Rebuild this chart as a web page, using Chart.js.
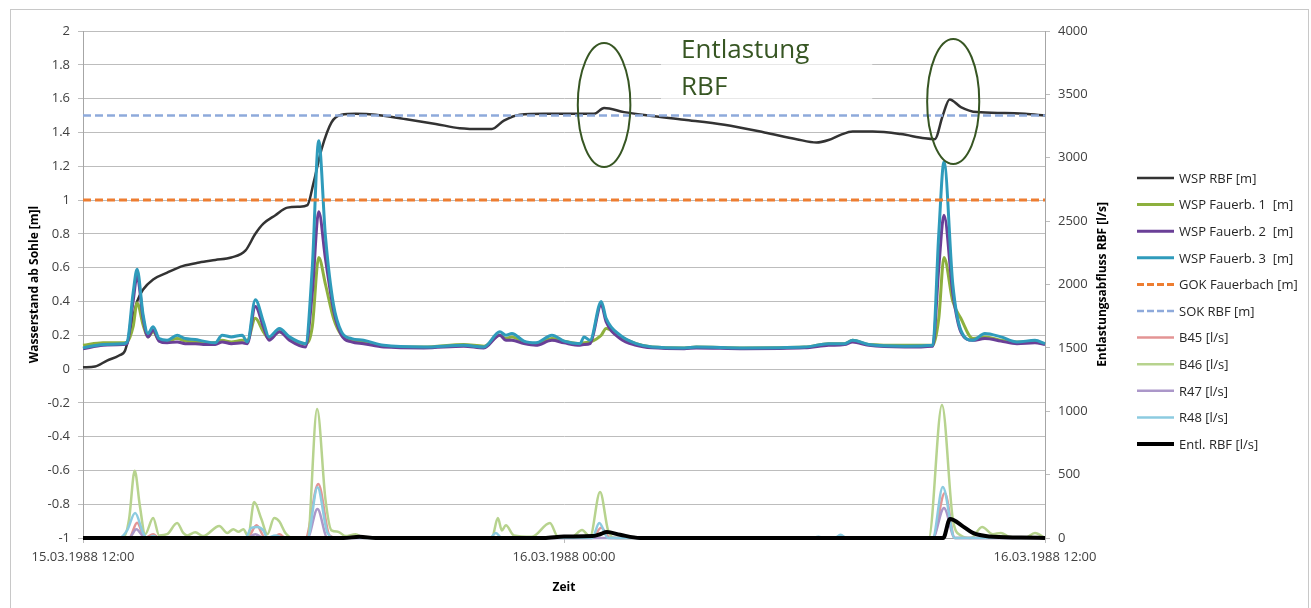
<!DOCTYPE html>
<html lang="de">
<head>
	<title>Wasserstand und Entlastungsabfluss RBF</title>
	<meta charset="utf-8">
	<script src="https://cdn.jsdelivr.net/npm/chart.js@4.4.1/dist/chart.umd.min.js"></script>
	<style type="text/css">
		html, body { margin: 0; padding: 0; background: #fff; }
		#wrap { width: 1311px; height: 608px; }
	</style>
</head>
<body>
<div id="wrap"><canvas id="wsp-canvas"></canvas></div>
<script type="text/javascript">
	// Zeit in Stunden ab 15.03.1988 12:00
	var xTickLabels = ["15.03.1988 12:00", "16.03.1988 00:00", "16.03.1988 12:00"];

	// WSP RBF [m]
	var tWspRbf = [0, 0.3, 0.6, 0.9, 1.05, 1.2, 1.35, 1.5, 1.75, 2.1, 2.5, 2.9, 3.3, 3.7, 4.05, 4.3, 4.5, 4.8, 5.1, 5.4, 5.6, 5.75, 5.95, 6.2, 6.45, 6.8, 7.3, 8.0, 8.8, 9.4, 10.0, 10.2, 10.5, 10.9, 11.5, 12.2, 12.75, 13.0, 13.5, 14.1, 15.0, 16.0, 17.0, 17.8, 18.3, 18.6, 18.9, 19.2, 19.7, 20.4, 21.0, 21.25, 21.45, 21.62, 21.9, 22.3, 23.0, 23.5, 24];
	var wspRbf = [0.01, 0.015, 0.05, 0.08, 0.11, 0.25, 0.40, 0.47, 0.53, 0.57, 0.61, 0.63, 0.645, 0.66, 0.70, 0.80, 0.86, 0.91, 0.955, 0.96, 0.97, 1.10, 1.30, 1.46, 1.505, 1.51, 1.505, 1.48, 1.45, 1.425, 1.42, 1.42, 1.47, 1.505, 1.51, 1.51, 1.51, 1.545, 1.52, 1.50, 1.475, 1.445, 1.40, 1.36, 1.34, 1.355, 1.385, 1.405, 1.405, 1.39, 1.365, 1.36, 1.50, 1.595, 1.55, 1.52, 1.515, 1.51, 1.50];

	// WSP Fauerbach 1-3 [m]
	var tFauerb = [0, 0.5, 1.0, 1.1, 1.25, 1.35, 1.5, 1.62, 1.75, 1.9, 2.1, 2.35, 2.55, 2.8, 3.0, 3.3, 3.47, 3.7, 3.97, 4.1, 4.3, 4.5, 4.64, 4.9, 5.15, 5.55, 5.72, 5.88, 6.05, 6.25, 6.45, 6.7, 7.0, 7.5, 8.5, 9.5, 10.0, 10.4, 10.55, 10.7, 11.0, 11.3, 11.7, 12.0, 12.4, 12.5, 12.65, 12.93, 13.05, 13.4, 13.8, 14.2, 15.0, 15.3, 16.5, 18.0, 18.6, 19.0, 19.2, 19.6, 20.5, 21.2, 21.35, 21.48, 21.7, 21.9, 22.2, 22.5, 22.9, 23.3, 23.75, 24];
	var wspFauerb1 = [0.14, 0.155, 0.155, 0.16, 0.25, 0.39, 0.26, 0.19, 0.22, 0.17, 0.165, 0.18, 0.165, 0.16, 0.155, 0.155, 0.17, 0.16, 0.17, 0.17, 0.30, 0.22, 0.18, 0.22, 0.18, 0.15, 0.25, 0.66, 0.50, 0.30, 0.20, 0.17, 0.16, 0.135, 0.13, 0.145, 0.135, 0.20, 0.18, 0.19, 0.16, 0.15, 0.18, 0.165, 0.15, 0.155, 0.16, 0.20, 0.24, 0.19, 0.15, 0.13, 0.125, 0.13, 0.125, 0.13, 0.15, 0.15, 0.17, 0.145, 0.14, 0.14, 0.30, 0.66, 0.40, 0.30, 0.18, 0.19, 0.17, 0.16, 0.16, 0.15];
	var wspFauerb2 = [0.12, 0.14, 0.145, 0.15, 0.40, 0.55, 0.30, 0.19, 0.23, 0.165, 0.155, 0.16, 0.15, 0.15, 0.145, 0.145, 0.16, 0.15, 0.155, 0.15, 0.37, 0.25, 0.17, 0.22, 0.17, 0.13, 0.45, 0.93, 0.65, 0.35, 0.20, 0.16, 0.15, 0.13, 0.125, 0.135, 0.125, 0.20, 0.17, 0.17, 0.15, 0.14, 0.17, 0.155, 0.14, 0.145, 0.15, 0.38, 0.28, 0.18, 0.14, 0.125, 0.12, 0.125, 0.12, 0.125, 0.14, 0.145, 0.16, 0.14, 0.13, 0.135, 0.60, 0.91, 0.45, 0.22, 0.17, 0.18, 0.165, 0.15, 0.155, 0.145];
	var wspFauerb3 = [0.125, 0.145, 0.15, 0.16, 0.45, 0.59, 0.32, 0.21, 0.25, 0.18, 0.17, 0.20, 0.18, 0.175, 0.165, 0.155, 0.20, 0.19, 0.20, 0.16, 0.41, 0.28, 0.19, 0.24, 0.19, 0.15, 0.60, 1.35, 0.78, 0.38, 0.22, 0.18, 0.17, 0.14, 0.13, 0.14, 0.13, 0.22, 0.20, 0.21, 0.165, 0.155, 0.20, 0.165, 0.15, 0.19, 0.17, 0.40, 0.30, 0.20, 0.15, 0.13, 0.125, 0.13, 0.125, 0.13, 0.15, 0.15, 0.17, 0.145, 0.135, 0.14, 0.80, 1.225, 0.50, 0.23, 0.17, 0.21, 0.19, 0.16, 0.17, 0.15];

	// GOK / SOK [m]
	var tLimit = [0, 24];
	var gokFauerbach = [1.0, 1.0];
	var sokRbf = [1.5, 1.5];

	// Zufluesse [l/s]
	var tB45 = [0, 1.15, 1.35, 1.55, 1.75, 1.9, 4.1, 4.33, 4.55, 4.75, 4.9, 5.05, 5.55, 5.87, 6.15, 6.35, 12.7, 12.93, 13.15, 21.2, 21.5, 21.75, 24];
	var b45 = [0, 0, 120, 0, 30, 0, 0, 100, 0, 0, 30, 0, 0, 426, 20, 0, 0, 80, 0, 0, 355, 0, 0];

	var tB46 = [0, 1.0, 1.15, 1.29, 1.42, 1.55, 1.75, 1.9, 2.1, 2.35, 2.5, 2.6, 2.8, 3.0, 3.4, 3.6, 3.75, 3.88, 4.0, 4.12, 4.27, 4.45, 4.6, 4.77, 4.9, 5.05, 5.25, 5.6, 5.84, 6.05, 6.2, 6.36, 6.55, 6.8, 7.0, 10.2, 10.35, 10.45, 10.55, 10.75, 11.2, 11.65, 11.85, 12.2, 12.45, 12.65, 12.9, 13.1, 13.3, 21.1, 21.43, 21.7, 21.9, 22.15, 22.43, 22.7, 22.9, 23.1, 23.5, 23.75, 24];
	var b46 = [0, 0, 150, 530, 250, 30, 158, 20, 30, 118, 40, 20, 45, 15, 95, 40, 70, 50, 70, 15, 284, 150, 30, 158, 130, 40, 0, 0, 1018, 300, 60, 50, 15, 30, 0, 0, 158, 60, 100, 20, 10, 118, 10, 10, 63, 10, 363, 60, 0, 0, 1050, 150, 20, 0, 87, 30, 40, 10, 0, 40, 0];

	var tR47 = [0, 1.15, 1.33, 1.55, 4.1, 4.3, 4.5, 5.6, 5.85, 6.1, 21.2, 21.48, 21.75, 24];
	var r47 = [0, 0, 70, 0, 0, 30, 0, 0, 229, 0, 0, 237, 0, 0];

	var tR48 = [0, 0.9, 1.1, 1.3, 1.5, 1.6, 1.75, 1.9, 4.05, 4.2, 4.35, 4.5, 4.6, 4.8, 5.0, 5.6, 5.85, 6.1, 6.3, 10.15, 10.3, 10.45, 12.7, 12.88, 13.1, 18.15, 18.35, 18.5, 18.75, 18.9, 19.05, 21.2, 21.45, 21.75, 24];
	var r48 = [0, 0, 60, 197, 40, 0, 15, 0, 0, 80, 87, 60, 0, 20, 0, 0, 400, 40, 0, 0, 40, 0, 0, 118, 0, 0, 10, 0, 0, 25, 0, 0, 403, 0, 0];

	// Entlastung RBF [l/s]
	var tEntl = [0, 6.5, 6.9, 7.3, 11.5, 12.0, 12.7, 12.9, 13.07, 13.4, 13.9, 21.46, 21.63, 21.96, 22.2, 22.6, 23.4, 24];
	var entlRbf = [0, 0, 10, 0, 0, 12, 15, 30, 47, 25, 0, 0, 150, 90, 40, 12, 4, 0];

	// Markierungen (Zeit [h], Wasserstand [m])
	var noteText = ["Entlastung", "RBF"];
	var noteBox = [14.42, 1.98, 19.69, 1.59];
	var noteTextPos = [14.92, 1.84, 1.621];
	var ellipses = [[13.0, 1.562, 0.656, 0.367], [21.71, 1.583, 0.65, 0.37]];

	function pts(ts, vs) {
		return ts.map(function(t, i) { return {x: t, y: vs[i]}; });
	}

	function series(label, ts, vs, color, width, axis, dash) {
		return {
			label: label,
			data: pts(ts, vs),
			borderColor: color,
			backgroundColor: color,
			borderWidth: width,
			borderDash: dash || [],
			yAxisID: axis,
			pointRadius: 0,
			fill: false,
			cubicInterpolationMode: 'monotone',
			clip: 5
		};
	}

	var datasets = [
		series("WSP RBF [m]", tWspRbf, wspRbf, "#333333", 2.5, "y"),
		series("WSP Fauerb. 1  [m]", tFauerb, wspFauerb1, "#8db03e", 3, "y"),
		series("WSP Fauerb. 2  [m]", tFauerb, wspFauerb2, "#6a3f97", 3, "y"),
		series("WSP Fauerb. 3  [m]", tFauerb, wspFauerb3, "#2f9bbb", 3, "y"),
		series("GOK Fauerbach [m]", tLimit, gokFauerbach, "#ed7d31", 3, "y", [8, 4]),
		series("SOK RBF [m]", tLimit, sokRbf, "#8eaadb", 2.5, "y", [8, 4]),
		series("B45 [l/s]", tB45, b45, "#e39494", 2.5, "y1"),
		series("B46 [l/s]", tB46, b46, "#b7d38e", 2.5, "y1"),
		series("R47 [l/s]", tR47, r47, "#ab97c9", 2.5, "y1"),
		series("R48 [l/s]", tR48, r48, "#8ccbe0", 2.5, "y1"),
		series("Entl. RBF [l/s]", tEntl, entlRbf, "#000000", 4, "y1")
	];
	// wie in Excel: spaetere Reihen liegen oben
	datasets.forEach(function(ds, i) { ds.order = datasets.length - i; });

	var frame = {
		id: 'frame',
		beforeDraw: function(chart) {
			var ctx = chart.ctx;
			ctx.save();
			ctx.fillStyle = "#fff";
			ctx.fillRect(0, 0, chart.width, chart.height);
			ctx.strokeStyle = "#c8c8c8";
			ctx.lineWidth = 1;
			ctx.strokeRect(10.5, 9.5, 1298, 610);
			ctx.restore();
		}
	};

	var notes = {
		id: 'notes',
		beforeDatasetsDraw: function(chart) {
			var ctx = chart.ctx, sx = chart.scales.x, sy = chart.scales.y;
			var x0 = sx.getPixelForValue(noteBox[0]), y0 = sy.getPixelForValue(noteBox[1]);
			var x1 = sx.getPixelForValue(noteBox[2]), y1 = sy.getPixelForValue(noteBox[3]);
			ctx.save();
			ctx.fillStyle = "rgba(255,255,255,0.65)";
			ctx.fillRect(x0, y0, x1 - x0, y1 - y0);
			ctx.restore();
		},
		afterDatasetsDraw: function(chart) {
			var ctx = chart.ctx, sx = chart.scales.x, sy = chart.scales.y;
			ctx.save();
			ctx.strokeStyle = "#375623";
			ctx.lineWidth = 2;
			ellipses.forEach(function(e) {
				var cx = sx.getPixelForValue(e[0]), cy = sy.getPixelForValue(e[1]);
				var rx = sx.getPixelForValue(e[0] + e[2]) - cx;
				var ry = cy - sy.getPixelForValue(e[1] + e[3]);
				ctx.beginPath();
				ctx.ellipse(cx, cy, rx, ry, 0, 0, Math.PI * 2);
				ctx.stroke();
			});
			ctx.fillStyle = "#375623";
			ctx.font = "26px 'Open Sans'";
			ctx.textBaseline = "alphabetic";
			ctx.fillText(noteText[0], sx.getPixelForValue(noteTextPos[0]), sy.getPixelForValue(noteTextPos[1]));
			ctx.fillText(noteText[1], sx.getPixelForValue(noteTextPos[0]), sy.getPixelForValue(noteTextPos[2]));
			ctx.restore();
		}
	};

	var sideParts = {
		id: 'sideParts',
		afterDraw: function(chart) {
			var ctx = chart.ctx, a = chart.chartArea, r = chart.scales.y1;
			ctx.save();
			// rechte Achsenbeschriftung, von unten nach oben
			ctx.translate(r.right - 11, (a.top + a.bottom) / 2);
			ctx.rotate(-Math.PI / 2);
			ctx.font = "bold 12px 'Open Sans'";
			ctx.fillStyle = "#000";
			ctx.textAlign = "center";
			ctx.textBaseline = "middle";
			ctx.fillText("Entlastungsabfluss RBF [l/s]", 0, 0);
			ctx.restore();

			// Legende
			var lx = 1137, len = 37, ly = 178, step = 26.6;
			chart.data.datasets.forEach(function(ds, i) {
				var y = ly + i * step;
				ctx.save();
				ctx.strokeStyle = ds.borderColor;
				ctx.lineWidth = ds.borderWidth;
				ctx.setLineDash(ds.borderDash.length ? [7, 3] : []);
				ctx.beginPath();
				ctx.moveTo(lx, y);
				ctx.lineTo(lx + len, y);
				ctx.stroke();
				ctx.setLineDash([]);
				ctx.fillStyle = "#262626";
				ctx.font = "13px 'Open Sans'";
				ctx.textBaseline = "middle";
				ctx.fillText(ds.label, lx + len + 5, y + 1);
				ctx.restore();
			});
		}
	};

	Chart.defaults.font.family = "'Open Sans', sans-serif";
	Chart.defaults.font.size = 13;
	Chart.defaults.color = "#404040";

	var ctx = document.querySelector("#wsp-canvas").getContext('2d');
	var wspChart = new Chart(ctx, {
		type: "line",
		data: { datasets: datasets },
		plugins: [frame, notes, sideParts],
		options: {
			responsive: true,
			maintainAspectRatio: false,
			animation: false,
			events: [],
			layout: { padding: { left: 23, right: 197, top: 31, bottom: 9 } },
			plugins: {
				legend: { display: false },
				tooltip: { enabled: false }
			},
			scales: {
				x: {
					type: "linear",
					min: 0,
					max: 24,
					afterFit: function(scale) { scale.height = 61; },
					ticks: {
						stepSize: 12,
						maxRotation: 0,
						autoSkip: false,
						padding: 6,
						callback: function(v) { return xTickLabels[v / 12]; }
					},
					grid: { drawOnChartArea: false, tickLength: 5, color: "#bdbdbd" },
					border: { color: "#a6a6a6" },
					title: {
						display: true,
						text: "Zeit",
						color: "#000",
						font: { weight: "bold", size: 12 },
						padding: { top: 0, bottom: 4 }
					}
				},
				y: {
					position: "left",
					min: -1,
					max: 2,
					afterFit: function(scale) { scale.width = 60; },
					ticks: {
						stepSize: 0.2,
						padding: 8,
						callback: function(v) { return String(Math.round(v * 10) / 10); }
					},
					grid: { color: "#bdbdbd", tickLength: 5 },
					border: { color: "#a6a6a6" },
					title: {
						display: true,
						text: "Wasserstand ab Sohle [m]l",
						color: "#000",
						font: { weight: "bold", size: 12 },
						padding: { top: 4, bottom: 4 }
					}
				},
				y1: {
					position: "right",
					min: 0,
					max: 4000,
					afterFit: function(scale) { scale.width = 69; },
					ticks: {
						stepSize: 500,
						padding: 8,
						callback: function(v) { return String(v); }
					},
					grid: { drawOnChartArea: false, tickLength: 5, color: "#bdbdbd" },
					border: { color: "#a6a6a6" }
				}
			}
		}
	});
</script>
</body>
</html>
